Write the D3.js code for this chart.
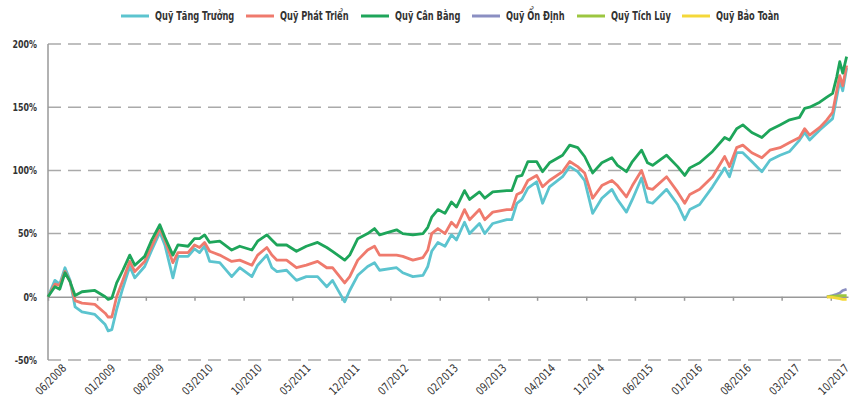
<!DOCTYPE html>
<html>
<head>
<meta charset="utf-8">
<script src="https://cdn.jsdelivr.net/npm/d3@7"></script>
<style>
  body { margin: 0; background: #fff; }
  svg { display: block; }
  text { font-family: 'DejaVu Sans Condensed', 'DejaVu Sans', sans-serif; font-stretch: condensed; fill: #333; }
</style>
</head>
<body>
<svg id="chart" width="852" height="403"></svg>
<script>
// sample dates (roughly weekly/monthly points)
var dates = ["2008-06-01","2008-07-01","2008-07-22","2008-08-14","2008-09-05","2008-09-27","2008-10-27","2008-12-22",
  "2009-02-05","2009-02-18","2009-03-06","2009-03-27","2009-04-23","2009-05-23","2009-06-14","2009-07-27","2009-08-27",
  "2009-10-01","2009-10-23","2009-11-27","2009-12-19","2010-02-01","2010-03-01","2010-03-23","2010-04-14","2010-05-06",
  "2010-06-19","2010-08-10","2010-09-14","2010-11-06","2010-12-01","2011-01-10","2011-02-01","2011-02-23","2011-04-06",
  "2011-05-19","2011-07-01","2011-08-19","2011-09-28","2011-10-23","2011-12-15","2012-01-06","2012-02-10","2012-03-24",
  "2012-04-23","2012-05-15","2012-07-28","2012-08-24","2012-10-07","2012-11-20","2012-12-11","2012-12-28","2013-01-24",
  "2013-02-24","2013-03-24","2013-04-15","2013-05-20","2013-06-11","2013-07-24","2013-08-16","2013-09-20","2013-11-20",
  "2013-12-12","2014-01-03","2014-01-25","2014-02-20","2014-03-30","2014-04-25","2014-05-25","2014-07-21","2014-08-21",
  "2014-09-25","2014-10-25","2014-11-29","2015-01-08","2015-02-21","2015-03-17","2015-04-25","2015-05-21","2015-06-30",
  "2015-07-26","2015-08-17","2015-10-17","2015-12-04","2016-01-04","2016-01-26","2016-03-09","2016-05-04","2016-06-26",
  "2016-07-17","2016-08-17","2016-09-13","2016-10-22","2016-12-05","2017-01-09","2017-02-22","2017-04-05","2017-05-18",
  "2017-06-09","2017-07-01","2017-08-14","2017-09-14","2017-10-09","2017-10-27","2017-11-09","2017-11-22","2017-12-09"];

var tangTruong = [0,13,10,23,13,-8,-12,-14,-22,-27,-26,-10,7,24,15,24,37,51,41,15,32,32,38,35,40,28,27,16,23,16,25,33,23,20,21,
  13,16,16,8,13,-4,5,17,24,27,21,23,19,16,17,24,36,43,40,49,45,59,50,58,50,58,61,61,74,77,86,91,74,87,95,103,99,92,66,78,85,77,
  67,77,94,75,74,85,73,61,69,73,87,102,95,114,114,107,99,108,112,115,124,130,124,132,137,141,158,171,163,181];
var phatTrien = [0,10,9,20,12,-3,-5,-6,-13,-16,-16,0,13,28,20,28,40,54,45,27,35,35,41,39,43,36,33,28,29,25,33,39,33,29,29,
  23,25,28,23,23,11,16,29,37,40,33,33,32,29,31,37,50,54,50,59,55,69,61,69,61,67,69,69,81,83,92,96,87,92,99,107,103,98,78,88,92,88,
  79,88,100,86,85,95,83,74,81,85,95,111,103,118,120,114,110,116,118,122,126,133,128,134,140,146,163,175,167,183];
var canBang = [0,8,6,19,12,1,4,5,0,-2,-1,11,21,33,25,32,45,57,47,33,41,40,46,46,49,43,44,37,40,37,44,49,45,41,41,
  36,40,43,39,36,29,33,46,50,54,49,53,50,49,50,55,63,69,66,75,71,84,77,83,78,83,84,84,95,96,107,107,99,106,112,120,118,111,98,106,110,104,
  99,107,116,106,104,112,103,96,102,106,115,126,124,133,136,130,126,132,136,140,142,149,150,154,158,161,174,186,177,190];

// the three newer funds only start in late 2017
var newDates = ["2017-09-14","2017-10-09","2017-10-27","2017-11-09","2017-11-22","2017-12-09"];
var onDinh = [0,1,2,3,5,6];
var tichLuy = [0,0.5,0.5,1,1,1];
var baoToan = [0,-0.5,-1,-1.5,-2,-2];

var yTicks = [-50, 0, 50, 100, 150, 200];
var xTickLabels = ["06/2008","01/2009","08/2009","03/2010","10/2010","05/2011","12/2011","07/2012","02/2013",
  "09/2013","04/2014","11/2014","06/2015","01/2016","08/2016","03/2017","10/2017"];

var parse = d3.timeParse("%Y-%m-%d");
var parseM = d3.timeParse("%m/%Y");

var series = [
  { name: "Quỹ Tăng Trưởng", color: "#5cc4cf", dates: dates, values: tangTruong },
  { name: "Quỹ Phát Triển", color: "#ef7a6d", dates: dates, values: phatTrien },
  { name: "Quỹ Cân Bằng", color: "#1ea55a", dates: dates, values: canBang },
  { name: "Quỹ Ổn Định", color: "#8b8fc2", dates: newDates, values: onDinh },
  { name: "Quỹ Tích Lũy", color: "#9cc640", dates: newDates, values: tichLuy },
  { name: "Quỹ Bảo Toàn", color: "#f4d83a", dates: newDates, values: baoToan }
];

var svg = d3.select("#chart");
var plotLeft = 48, plotRight = 848, plotTop = 44, plotBottom = 360;

var x = d3.scaleTime()
  .domain([parse("2008-06-01"), parse("2017-12-15")])
  .range([plotLeft, plotRight]);
var y = d3.scaleLinear()
  .domain([-50, 200])
  .range([plotBottom, plotTop]);

// dashed grid lines
svg.append("g").selectAll("line")
  .data(yTicks.filter(function (d) { return d != 0; }))
  .enter().append("line")
  .attr("x1", plotLeft).attr("x2", plotRight)
  .attr("y1", function (d) { return y(d); })
  .attr("y2", function (d) { return y(d); })
  .attr("stroke", "#aaa")
  .attr("stroke-width", 1.5)
  .attr("stroke-dasharray", "13,7");

// y labels (squeezed horizontally to mimic the condensed face)
svg.append("g").selectAll("text")
  .data(yTicks)
  .enter().append("text")
  .attr("transform", function (d) { return "translate(" + (plotLeft - 11) + "," + y(d) + ") scale(0.8,1)"; })
  .attr("dy", "0.35em")
  .attr("text-anchor", "end")
  .attr("font-size", "11px")
  .attr("font-weight", "bold")
  .text(function (d) { return d + "%"; });

// zero axis with ticks
var xAxis = svg.append("g")
  .attr("transform", "translate(0," + y(0) + ")")
  .call(d3.axisBottom(x)
    .tickValues(xTickLabels.map(function (d) { return parseM(d); }))
    .tickSize(4)
    .tickSizeOuter(0)
    .tickFormat(""));
xAxis.select(".domain").attr("stroke", "#999").attr("stroke-width", 1.5);
xAxis.selectAll(".tick line").attr("stroke", "#999").attr("stroke-width", 1.5);

// vertical axis
svg.append("line")
  .attr("x1", plotLeft).attr("x2", plotLeft)
  .attr("y1", plotTop).attr("y2", plotBottom)
  .attr("stroke", "#999")
  .attr("stroke-width", 1.5);

// rotated date labels along the bottom
svg.append("g").selectAll("text")
  .data(xTickLabels)
  .enter().append("text")
  .attr("transform", function (d) {
    return "translate(" + (x(parseM(d)) + 19) + "," + (plotBottom + 9) + ") rotate(-45) scale(0.88,1)";
  })
  .attr("text-anchor", "end")
  .attr("font-size", "11.5px")
  .text(function (d) { return d; });

// lines
var line = d3.line()
  .x(function (d) { return x(d[0]); })
  .y(function (d) { return y(d[1]); });

svg.append("g").selectAll("path")
  .data(series)
  .enter().append("path")
  .attr("fill", "none")
  .attr("stroke", function (d) { return d.color; })
  .attr("stroke-width", 2.8)
  .attr("stroke-linejoin", "round")
  .attr("d", function (s) {
    return line(s.values.map(function (v, i) { return [parse(s.dates[i]), v]; }));
  });

// legend
var legendX = [121, 246, 361, 472, 577, 682];
var legend = svg.append("g").selectAll("g")
  .data(series)
  .enter().append("g")
  .attr("transform", function (d, i) { return "translate(" + legendX[i] + ",16)"; });
legend.append("line")
  .attr("x1", 0).attr("x2", 28)
  .attr("stroke", function (d) { return d.color; })
  .attr("stroke-width", 3);
legend.append("text")
  .attr("transform", "translate(34,0) scale(0.8,1)")
  .attr("dy", "0.35em")
  .attr("font-size", "11.5px")
  .attr("font-weight", "bold")
  .text(function (d) { return d.name; });
</script>
</body>
</html>
